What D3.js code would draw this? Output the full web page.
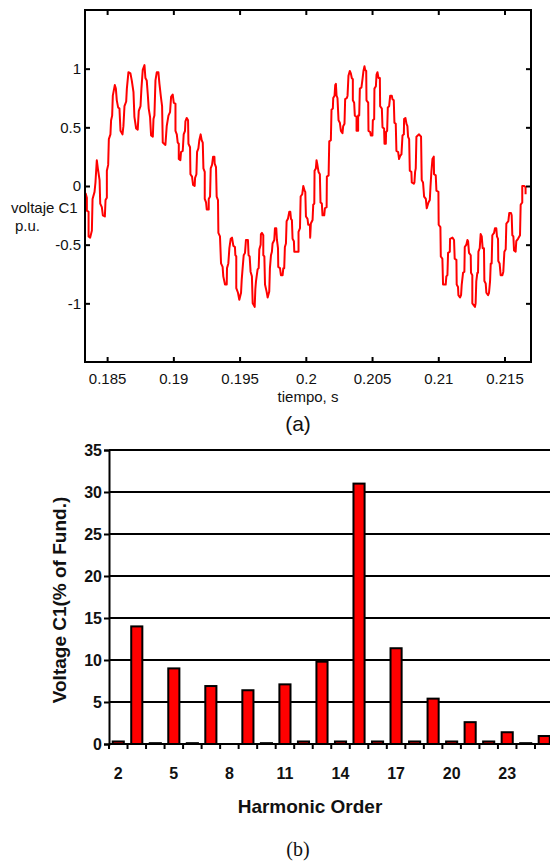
<!DOCTYPE html>
<html><head><meta charset="utf-8">
<script src="https://cdn.jsdelivr.net/npm/d3@7"></script>
<style>body{margin:0;background:#fff}svg{display:block}</style>
</head><body>
<svg id="c" width="550" height="865"></svg>
<script>
// ---------- (a) waveform: time (s) and voltage (p.u.) ----------
const timeS = [
0.18337,0.18347,0.18347,0.18360,0.18360,0.18372,0.18385,0.18390,0.18405,0.18412,0.18422,0.18430,0.18443,0.18448,0.18460,0.18468,0.18483,0.18488,0.18498,0.18498,
0.18508,0.18513,0.18525,0.18530,0.18538,0.18543,0.18558,0.18566,0.18573,0.18583,0.18593,0.18601,0.18616,0.18623,0.18631,0.18644,0.18649,0.18661,0.18676,0.18686,
0.18699,0.18706,0.18719,0.18731,0.18739,0.18752,0.18759,0.18769,0.18782,0.18789,0.18799,0.18807,0.18814,0.18824,0.18832,0.18845,0.18850,0.18857,0.18865,0.18875,
0.18887,0.18895,0.18907,0.18915,0.18920,0.18940,0.18950,0.18963,0.18975,0.18983,
0.18995,0.19003,0.19016,0.19016,0.19026,0.19033,0.19041,0.19041,0.19053,0.19058,0.19071,0.19078,0.19088,0.19091,0.19101,0.19111,0.19114,0.19126,0.19129,0.19141,
0.19149,0.19161,0.19164,0.19174,0.19179,0.19189,0.19196,0.19206,0.19214,0.19222,0.19227,0.19237,0.19237,0.19247,0.19252,0.19267,0.19267,0.19277,0.19282,0.19292,
0.19300,0.19310,0.19312,0.19322,0.19327,0.19337,0.19340,0.19352,0.19360,0.19372,0.19377,0.19390,0.19403,0.19405,0.19415,0.19423,0.19433,0.19443,0.19453,0.19465,
0.19468,0.19475,0.19475,0.19488,0.19498,0.19511,0.19516,0.19523,0.19531,0.19541,0.19548,0.19563,0.19568,0.19576,0.19583,0.19593,0.19599,0.19614,0.19619,0.19624,
0.19636,0.19644,0.19649,0.19659,0.19661,0.19669,
0.19679,0.19679,0.19687,0.19692,0.19704,0.19712,0.19724,0.19729,0.19737,0.19744,0.19749,0.19762,0.19767,0.19777,0.19782,0.19790,0.19792,0.19805,0.19812,0.19825,
0.19830,0.19837,0.19842,0.19850,0.19855,0.19865,0.19875,0.19883,0.19888,0.19895,0.19900,0.19910,0.19913,0.19945,0.19945,0.19956,0.19961,0.19973,0.19981,0.19991,
0.19996,0.20001,0.20013,0.20018,0.20031,0.20033,0.20038,0.20051,0.20056,0.20064,0.20066,0.20076,0.20081,0.20086,0.20096,0.20106,0.20111,0.20121,0.20126,0.20139,
0.20144,0.20157,0.20159,0.20172,0.20177,0.20189,0.20194,0.20204,0.20207,0.20217,0.20222,0.20227,0.20232,0.20239,0.20247,0.20257,0.20265,0.20277,0.20282,0.20292,
0.20297,0.20310,0.20315,0.20322,0.20332,0.20340,0.20347,
0.20355,0.20355,0.20365,0.20370,0.20383,0.20383,0.20395,0.20395,0.20403,0.20408,0.20420,0.20428,0.20435,0.20443,0.20448,0.20456,0.20458,0.20471,0.20473,0.20486,
0.20491,0.20503,0.20506,0.20516,0.20518,0.20529,0.20534,0.20541,0.20549,0.20559,0.20561,0.20574,0.20579,0.20591,0.20594,0.20604,0.20606,0.20614,0.20619,0.20629,
0.20637,0.20649,0.20654,0.20664,0.20669,0.20679,0.20684,0.20697,0.20704,0.20714,0.20722,0.20730,0.20740,0.20742,0.20752,0.20760,0.20767,0.20772,0.20780,0.20785,
0.20797,0.20800,0.20815,0.20820,0.20825,0.20830,0.20835,0.20845,0.20855,0.20863,0.20870,0.20875,0.20885,0.20893,0.20906,0.20913,0.20926,0.20936,0.20941,0.20948,
0.20956,0.20966,0.20968,0.20981,0.20986,0.21001,0.21003,0.21016,0.21019,0.21031,
0.21036,0.21056,0.21061,0.21069,0.21074,0.21087,0.21089,0.21107,0.21119,0.21124,0.21137,0.21139,0.21149,0.21152,0.21164,0.21172,0.21177,0.21187,0.21197,0.21200,
0.21212,0.21220,0.21225,0.21232,0.21245,0.21247,0.21257,0.21257,0.21270,0.21277,0.21282,0.21287,0.21295,0.21300,0.21303,0.21313,0.21320,0.21328,0.21335,0.21345,
0.21348,0.21358,0.21363,0.21376,0.21383,0.21391,0.21396,0.21403,0.21408,0.21421,0.21428,0.21438,0.21443,0.21451,0.21453,0.21463,0.21471,0.21484,0.21491,0.21499,
0.21509,0.21514,0.21529,0.21536,0.21549,0.21554,0.21559,0.21567,0.21572,0.21584,0.21589,0.21602,0.21617,0.21622,0.21634,0.21634,0.21649,0.21659,0.21659
];
const voltagePU = [
-0.06,-0.10,-0.21,-0.22,-0.43,-0.44,-0.38,-0.11,-0.05,0.03,0.22,0.15,0.05,-0.15,-0.18,-0.25,-0.26,-0.12,-0.10,0.13,
0.18,0.40,0.44,0.56,0.60,0.77,0.86,0.83,0.73,0.67,0.66,0.47,0.44,0.51,0.68,0.72,0.83,0.97,0.96,0.90,
0.80,0.59,0.49,0.48,0.64,0.68,0.83,0.99,1.03,0.92,0.90,0.78,0.66,0.59,0.43,0.42,0.57,0.60,0.90,0.97,
0.97,0.87,0.75,0.68,0.37,0.35,0.51,0.60,0.63,0.76,
0.78,0.71,0.70,0.47,0.44,0.37,0.36,0.23,0.22,0.29,0.30,0.44,0.47,0.55,0.58,0.56,0.36,0.33,0.10,0.08,
0.01,0.00,0.07,0.10,0.29,0.32,0.39,0.44,0.39,0.37,0.15,0.12,-0.11,-0.14,-0.20,-0.20,-0.11,-0.09,0.15,0.18,
0.25,0.25,0.19,0.16,-0.09,-0.12,-0.40,-0.43,-0.66,-0.69,-0.77,-0.84,-0.84,-0.70,-0.66,-0.53,-0.45,-0.44,-0.51,-0.52,
-0.59,-0.60,-0.87,-0.91,-0.97,-0.91,-0.80,-0.70,-0.59,-0.57,-0.46,-0.46,-0.59,-0.60,-0.73,-0.77,-1.00,-1.03,-0.88,-0.81,
-0.71,-0.70,-0.54,-0.50,-0.41,-0.40,
-0.42,-0.59,-0.60,-0.84,-0.90,-0.95,-0.90,-0.70,-0.59,-0.56,-0.49,-0.46,-0.36,-0.36,-0.46,-0.53,-0.69,-0.70,-0.76,-0.76,
-0.70,-0.70,-0.52,-0.49,-0.30,-0.28,-0.22,-0.22,-0.28,-0.29,-0.45,-0.47,-0.56,-0.56,-0.39,-0.36,-0.09,-0.07,0.00,-0.04,
-0.05,-0.26,-0.28,-0.33,-0.33,-0.44,-0.32,-0.29,-0.16,-0.15,0.13,0.15,0.22,0.19,0.12,0.10,-0.14,-0.15,-0.25,-0.25,
-0.19,-0.18,0.08,0.09,0.38,0.39,0.65,0.66,0.75,0.77,0.86,0.87,0.77,0.75,0.56,0.54,0.47,0.45,0.51,0.53,
0.74,0.75,0.77,0.94,0.98,0.96,0.92,
0.91,0.73,0.71,0.60,0.59,0.47,0.47,0.60,0.60,0.83,0.84,0.91,0.98,1.02,0.99,0.98,0.73,0.71,0.47,0.46,
0.43,0.43,0.56,0.57,0.83,0.85,0.95,0.97,0.92,0.92,0.68,0.66,0.50,0.49,0.36,0.36,0.46,0.47,0.67,0.68,
0.77,0.77,0.74,0.73,0.54,0.53,0.30,0.29,0.23,0.26,0.27,0.43,0.44,0.57,0.58,0.53,0.51,0.42,0.40,0.13,
0.12,0.03,0.02,0.03,0.12,0.15,0.42,0.43,0.44,0.43,0.42,0.05,0.03,-0.09,-0.11,-0.19,-0.14,-0.12,-0.01,0.12,
0.23,0.25,0.10,0.09,-0.04,-0.05,-0.33,-0.35,-0.60,-0.62,
-0.84,-0.84,-0.77,-0.76,-0.57,-0.56,-0.45,-0.44,-0.46,-0.62,-0.63,-0.84,-0.86,-0.93,-0.95,-0.93,-0.84,-0.74,-0.73,-0.52,
-0.50,-0.46,-0.47,-0.57,-0.59,-0.74,-0.76,-1.00,-1.02,-1.03,-1.00,-0.81,-0.74,-0.74,-0.56,-0.53,-0.41,-0.43,-0.53,-0.53,
-0.81,-0.83,-0.91,-0.93,-0.91,-0.81,-0.66,-0.66,-0.42,-0.40,-0.36,-0.36,-0.43,-0.45,-0.64,-0.66,-0.76,-0.76,-0.73,-0.56,
-0.54,-0.32,-0.30,-0.23,-0.23,-0.25,-0.42,-0.43,-0.55,-0.56,-0.47,-0.45,-0.42,-0.16,-0.14,0.00,0.00,-0.01,-0.07
];
const timeTicks = [0.185, 0.19, 0.195, 0.2, 0.205, 0.21, 0.215];
const voltTicks = [-1, -0.5, 0, 0.5, 1];

// ---------- (b) harmonic spectrum ----------
const harmonicOrders = [2,3,4,5,6,7,8,9,10,11,12,13,14,15,16,17,18,19,20,21,22,23,24,25];
const harmonicPct    = [0.3,14,0.1,9,0.1,6.9,0,6.4,0.1,7.1,0.3,9.8,0.3,31,0.3,11.4,0.3,5.4,0.3,2.6,0.3,1.4,0.1,0.95];
const pctTicks = [0,5,10,15,20,25,30,35];
const orderLabels = [2,5,8,11,14,17,20,23];

const svg = d3.select("#c");
const sans = "'Liberation Sans', Arial, Helvetica, sans-serif";

// ===== (a) =====
const AX0 = 85, AX1 = 531, AY0 = 10, AY1 = 362;
const x = d3.scaleLinear().domain([0.18333, 0.21700]).range([AX0, AX1]);
const y = d3.scaleLinear().domain([-1.5, 1.5]).range([AY1, AY0]);
const ga = svg.append("g");
svg.append("defs").append("clipPath").attr("id", "clipA")
  .append("rect").attr("x", AX0).attr("y", AY0).attr("width", AX1 - AX0).attr("height", AY1 - AY0);

ga.append("path")
  .datum(d3.range(timeS.length))
  .attr("d", d3.line().x(i => x(timeS[i])).y(i => y(voltagePU[i])))
  .attr("fill", "none").attr("stroke", "#ff0000").attr("stroke-width", 2)
  .attr("stroke-linejoin", "round")
  .attr("clip-path", "url(#clipA)");

function styleAxis(g, size) {
  g.select(".domain").remove();
  g.selectAll(".tick line").attr("stroke", "#000").attr("stroke-width", 2);
  g.selectAll(".tick text").attr("fill", "#111").style("font-family", sans).style("font-size", size + "px");
}
ga.append("g").attr("transform", `translate(0,${AY1})`)
  .call(d3.axisBottom(x).tickValues(timeTicks).tickSize(-5).tickPadding(11.3).tickFormat(d => String(d)))
  .call(g => styleAxis(g, 15));
ga.append("g").attr("transform", `translate(0,${AY0})`)
  .call(d3.axisTop(x).tickValues(timeTicks).tickSize(-5).tickFormat(""))
  .call(g => styleAxis(g, 15));
ga.append("g").attr("transform", `translate(${AX0},0)`)
  .call(d3.axisLeft(y).tickValues(voltTicks).tickSize(-5).tickPadding(4).tickFormat(d => String(d)))
  .call(g => styleAxis(g, 15));
ga.append("g").attr("transform", `translate(${AX1},0)`)
  .call(d3.axisRight(y).tickValues(voltTicks).tickSize(-5).tickFormat(""))
  .call(g => styleAxis(g, 15));
ga.append("rect").attr("x", AX0).attr("y", AY0).attr("width", AX1 - AX0).attr("height", AY1 - AY0)
  .attr("fill", "none").attr("stroke", "#000").attr("stroke-width", 2);

ga.append("text").attr("x", (AX0 + AX1) / 2).attr("y", 402).attr("text-anchor", "middle")
  .style("font-family", sans).style("font-size", "15px").attr("fill", "#111").text("tiempo, s");
ga.append("text").attr("x", 11).attr("y", 213)
  .style("font-family", sans).style("font-size", "15px").attr("fill", "#111").text("voltaje C1");
ga.append("text").attr("x", 15).attr("y", 231)
  .style("font-family", sans).style("font-size", "15px").attr("fill", "#111").text("p.u.");
ga.append("text").attr("x", 298).attr("y", 431).attr("text-anchor", "middle")
  .style("font-family", sans).style("font-size", "21px").attr("fill", "#111").text("(a)");

// ===== (b) =====
const BX0 = 109, BX1 = 553.5, BY0 = 450, BY1 = 744;
const bx = d3.scaleBand().domain(harmonicOrders).range([BX0, BX1]).paddingInner(0.4).paddingOuter(0.2);
const by = d3.scaleLinear().domain([0, 35]).range([BY1, BY0]);
const gb = svg.append("g");

gb.append("g").selectAll("line").data(pctTicks).join("line")
  .attr("x1", BX0).attr("x2", 551).attr("y1", d => by(d)).attr("y2", d => by(d))
  .attr("stroke", "#000").attr("stroke-width", 2);

// category boundary ticks on the x axis
const bounds = harmonicOrders.map(c => bx(c) - bx.step() * 0.2).concat([BX1]);
gb.append("g").selectAll("line").data(bounds).join("line")
  .attr("x1", d => d).attr("x2", d => d).attr("y1", BY1).attr("y2", BY1 + 5)
  .attr("stroke", "#000").attr("stroke-width", 2);

gb.append("g").selectAll("rect").data(harmonicOrders).join("rect")
  .attr("x", d => bx(d)).attr("width", bx.bandwidth())
  .attr("y", (d, i) => by(harmonicPct[i])).attr("height", (d, i) => BY1 - by(harmonicPct[i]))
  .attr("fill", "#ff0000").attr("stroke", "#000").attr("stroke-width", 2);

gb.append("g").attr("transform", `translate(${BX0},0)`)
  .call(d3.axisLeft(by).tickValues(pctTicks).tickSize(5).tickPadding(2))
  .call(g => {
    g.select(".domain").attr("stroke", "#000").attr("stroke-width", 2);
    g.selectAll(".tick line").attr("stroke", "#000").attr("stroke-width", 2);
    g.selectAll(".tick text").attr("fill", "#111").style("font-family", sans)
      .style("font-size", "16px").style("font-weight", "bold");
  });
gb.append("g").attr("transform", `translate(0,${BY1})`)
  .call(d3.axisBottom(bx).tickValues(orderLabels).tickSize(0).tickPadding(23.5))
  .call(g => {
    g.select(".domain").remove();
    g.selectAll(".tick text").attr("fill", "#111").style("font-family", sans)
      .style("font-size", "16px").style("font-weight", "bold");
  });

gb.append("text").attr("x", 310).attr("y", 813).attr("text-anchor", "middle")
  .style("font-family", sans).style("font-size", "19px").style("font-weight", "bold")
  .attr("fill", "#111").text("Harmonic Order");
gb.append("text").attr("transform", "translate(66,600) rotate(-90)").attr("text-anchor", "middle")
  .style("font-family", sans).style("font-size", "19px").style("font-weight", "bold")
  .attr("fill", "#111").text("Voltage C1(% of Fund.)");
gb.append("text").attr("x", 298).attr("y", 856).attr("text-anchor", "middle")
  .style("font-family", "'Liberation Serif', 'Times New Roman', serif").style("font-size", "20px")
  .attr("fill", "#111").text("(b)");
</script>
</body></html>
